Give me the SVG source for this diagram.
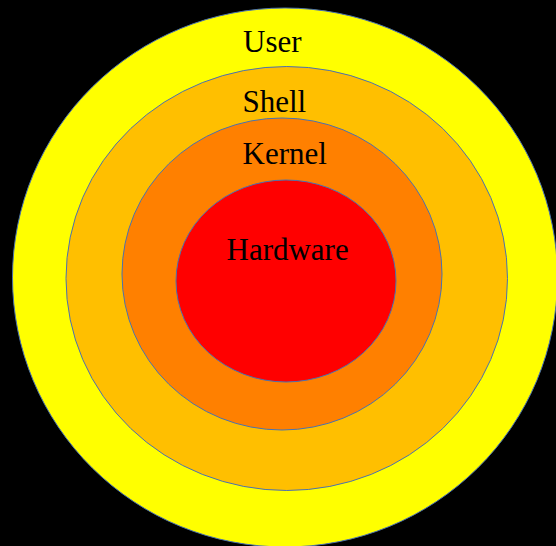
<svg xmlns="http://www.w3.org/2000/svg" width="556" height="546" viewBox="0 0 556 546">
<style>
.ring{stroke:#4a72b0;stroke-width:1}
.lbl{font-family:"Liberation Serif","Times New Roman",serif;font-size:31px;fill:#000}
</style>
<rect x="0" y="0" width="556" height="546" fill="#000"/>
<g id="user">
<ellipse class="ring" cx="285" cy="277.5" rx="272.5" ry="269.5" fill="#ffff00"/>
<text class="lbl" x="243" y="51.5">User</text>
</g>
<g id="shell">
<ellipse class="ring" cx="286.75" cy="278.5" rx="220.75" ry="212" fill="#ffbf00"/>
<text class="lbl" x="242.5" y="111.5">Shell</text>
</g>
<g id="kernel">
<ellipse class="ring" cx="282" cy="274" rx="160" ry="156" fill="#ff8000"/>
<text class="lbl" x="242.5" y="164">Kernel</text>
</g>
<g id="hardware">
<ellipse class="ring" cx="286" cy="281" rx="110" ry="101" fill="#ff0000"/>
<text class="lbl" x="226.5" y="259.5">Hardware</text>
</g>
<g id="connectors"/>
</svg>
